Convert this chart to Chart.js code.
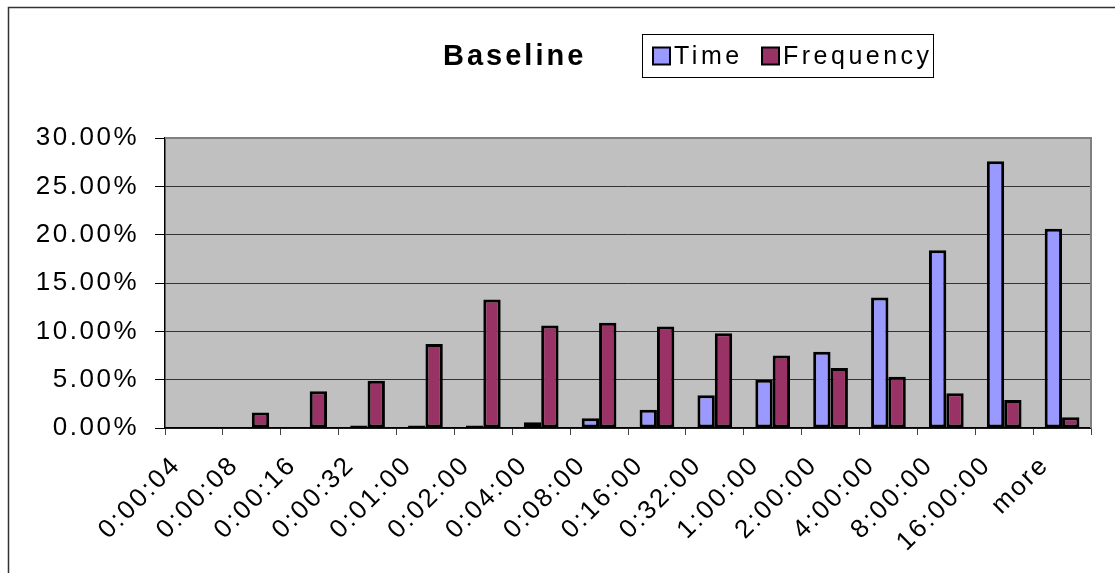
<!DOCTYPE html>
<html>
<head>
<meta charset="utf-8">
<script src="https://cdn.jsdelivr.net/npm/chart.js@4.4.1/dist/chart.umd.min.js"></script>
<style>
  html, body { margin: 0; padding: 0; background: #fff; }
  canvas { display: block; }
</style>
</head>
<body>
<canvas id="c" width="1115" height="573"></canvas>
<script>
// Duration buckets (upper bound of each bin)
const categories = ['0:00:04', '0:00:08', '0:00:16', '0:00:32', '0:01:00', '0:02:00', '0:04:00', '0:08:00',
                    '0:16:00', '0:32:00', '1:00:00', '2:00:00', '4:00:00', '8:00:00', '16:00:00', 'more'];
// Share of total time spent in each bucket (%); empty buckets left blank
const timeShare = [null, null, null, 0.02, 0.05, 0.25, 0.6, 1.0, 1.9, 3.4, 5.0, 7.9, 13.5, 18.4, 27.6, 20.6];
// Share of occurrences falling in each bucket (%)
const frequencyShare = [null, 1.6, 3.8, 4.9, 8.7, 13.3, 10.6, 10.9, 10.5, 9.8, 7.5, 6.2, 5.3, 3.6, 2.9, 1.1];
// Value axis ticks (%)
const yTicks = [0, 5, 10, 15, 20, 25, 30];

const chartTitle = 'Baseline';
const FONT = "'Liberation Sans', Arial, sans-serif";
const TICK_SPACING = '2.5px';

// Plot background, outer frame, heading and boxed legend
const decorations = {
  id: 'decorations',
  beforeUpdate(chart) { chart.ctx.letterSpacing = TICK_SPACING; },
  beforeLayout(chart) { chart.ctx.letterSpacing = TICK_SPACING; },
  beforeDraw(chart) {
    const { ctx, chartArea: a } = chart;
    ctx.save();
    ctx.fillStyle = '#ffffff';
    ctx.fillRect(0, 0, chart.width, chart.height);
    ctx.strokeStyle = '#333';
    ctx.lineWidth = 1.5;
    ctx.beginPath();
    ctx.moveTo(8.5, chart.height);
    ctx.lineTo(8.5, 7.5);
    ctx.lineTo(chart.width, 7.5);
    ctx.stroke();
    ctx.fillStyle = '#c0c0c0';
    ctx.fillRect(a.left, a.top, a.right - a.left, a.bottom - a.top);
    ctx.restore();
    ctx.letterSpacing = TICK_SPACING;
  },
  beforeDatasetsDraw(chart) {
    const { ctx, chartArea: a } = chart;
    ctx.save();
    ctx.strokeStyle = '#808080';
    ctx.lineWidth = 2;
    ctx.beginPath();
    ctx.moveTo(a.left, a.top);
    ctx.lineTo(a.right, a.top);
    ctx.lineTo(a.right, a.bottom);
    ctx.stroke();
    ctx.restore();
  },
  afterDraw(chart) {
    const ctx = chart.ctx;
    ctx.save();
    // heading
    ctx.letterSpacing = '3px';
    ctx.fillStyle = '#000';
    ctx.font = 'bold 29px ' + FONT;
    ctx.textAlign = 'left';
    ctx.textBaseline = 'alphabetic';
    ctx.fillText(chartTitle, 443, 65);
    // legend box
    ctx.strokeStyle = '#000';
    ctx.lineWidth = 1;
    ctx.strokeRect(642.5, 34.5, 291, 43);
    ctx.font = '25px ' + FONT;
    ctx.letterSpacing = '3.5px';
    const starts = [653, 762];
    chart.data.datasets.forEach((ds, i) => {
      const x = starts[i];
      ctx.fillStyle = ds.backgroundColor;
      ctx.fillRect(x, 47.5, 17, 17);
      ctx.lineWidth = 2;
      ctx.strokeRect(x, 47.5, 17, 17);
      ctx.fillStyle = '#000';
      ctx.fillText(ds.label, x + 21, 64);
    });
    ctx.restore();
  }
};

const tickFont = { family: FONT, size: 26 };

new Chart(document.getElementById('c'), {
  type: 'bar',
  data: {
    labels: categories,
    datasets: [
      { label: 'Time', data: timeShare, backgroundColor: '#9999ff', borderColor: '#000', borderWidth: 3, borderSkipped: false, minBarLength: 2.5 },
      { label: 'Frequency', data: frequencyShare, backgroundColor: '#993366', borderColor: '#000', borderWidth: 3, borderSkipped: false, minBarLength: 2.5 }
    ]
  },
  options: {
    responsive: false,
    animation: false,
    devicePixelRatio: 1,
    layout: { padding: { left: 20, top: 138, right: 24, bottom: 0 } },
    datasets: { bar: { categoryPercentage: 0.6, barPercentage: 1.0 } },
    plugins: { legend: { display: false }, title: { display: false }, tooltip: { enabled: false } },
    scales: {
      x: {
        grid: { display: true, drawOnChartArea: false, drawTicks: true, tickLength: 7, tickColor: '#444', offset: true },
        border: { display: true, color: '#000', width: 1.5 },
        ticks: { autoSkip: false, maxRotation: 45, minRotation: 45, font: tickFont, color: '#000', padding: 15, labelOffset: -17 },
        afterFit(s) { s.height = 145; }
      },
      y: {
        min: 0,
        max: 30,
        afterBuildTicks(s) { s.ticks = yTicks.map(v => ({ value: v })); },
        ticks: { callback: v => v.toFixed(2) + '%', font: tickFont, color: '#000', padding: 16 },
        grid: { color: '#333', lineWidth: 1, tickLength: 10, tickColor: '#000' },
        border: { color: '#000', width: 1.5 },
        afterFit(s) { s.width = 145; }
      }
    }
  },
  plugins: [decorations]
});
</script>
</body>
</html>
